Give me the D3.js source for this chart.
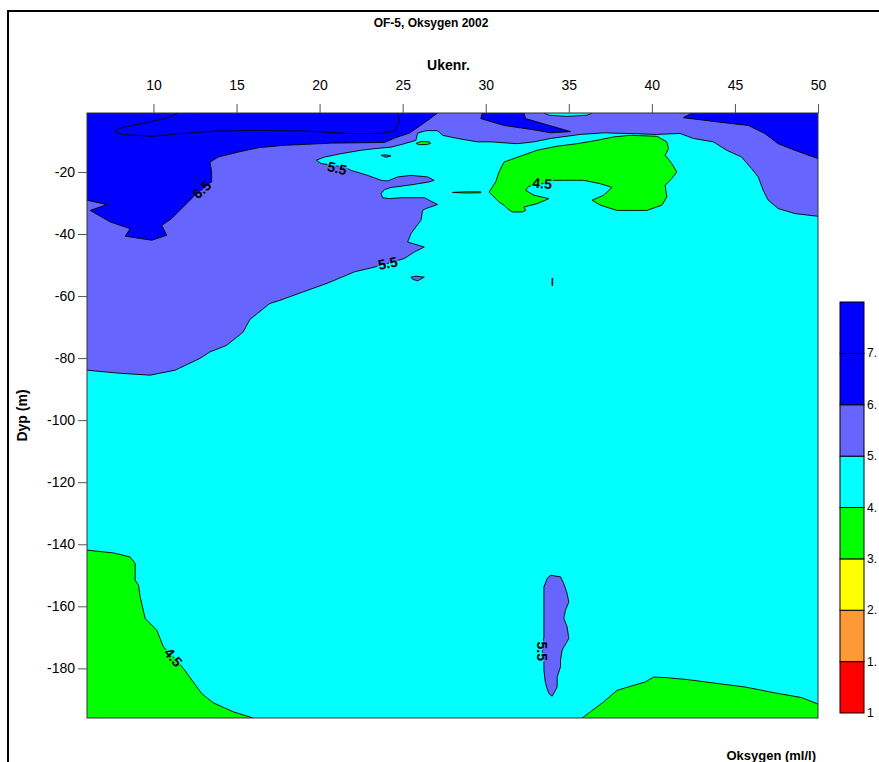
<!DOCTYPE html>
<html>
<head>
<meta charset="utf-8">
<script src="https://cdn.jsdelivr.net/npm/d3@7"></script>
<style>
  body { margin: 0; background: #ffffff; }
  svg { display: block; font-family: "Liberation Sans", Arial, sans-serif; }
</style>
</head>
<body>
<svg id="chart" width="879" height="762"></svg>
<script>
// ---- axes ----
const weekDomain = [6, 50];
const depthDomain = [-1, -196];
const weekTicks = [10, 15, 20, 25, 30, 35, 40, 45, 50];
const depthTicks = [-20, -40, -60, -80, -100, -120, -140, -160, -180];

// ---- colour classes (ml/l) ----
const legendLabels = ["1", "1.", "2.", "3.", "4.", "5.", "6.", "7."];
const legendColors = ["#ff0000", "#ff9933", "#ffff00", "#00ff00", "#00ffff", "#6666ff", "#0000ff", "#0000ff"];
const colBlue = "#0000ff", colPeri = "#6666ff", colCyan = "#00ffff", colGreen = "#00ff00";

// ---- contour regions, [week, depth] ----
// oxygen >= 5.5
const over55 = [[6.0,-83.9],[8.0,-84.9],[9.8,-85.5],[11.3,-83.9],[12.8,-80.1],[13.4,-78.0],[14.4,-75.9],[15.4,-71.6],[15.8,-67.6],[17.0,-62.4],[17.6,-61.4],[19.3,-58.1],[20.5,-55.8],[22.1,-52.2],[23.2,-50.8],[24.1,-49.5],[25.1,-47.9],[25.7,-45.8],[26.3,-44.2],[25.3,-42.6],[25.5,-39.9],[25.8,-37.7],[26.1,-35.6],[26.2,-32.4],[26.4,-31.8],[27.1,-30.5],[26.7,-29.4],[26.3,-28.3],[24.9,-28.3],[24.2,-28.6],[23.8,-28.3],[23.7,-27.0],[23.9,-25.7],[24.3,-25.0],[24.9,-24.6],[25.7,-24.0],[26.6,-23.2],[26.9,-22.7],[26.5,-21.6],[25.5,-21.1],[24.7,-21.6],[24.1,-22.9],[23.7,-22.7],[22.9,-21.1],[21.9,-19.5],[21.5,-18.4],[20.1,-17.3],[19.8,-16.2],[20.3,-15.2],[21.3,-14.1],[22.5,-13.0],[23.3,-12.5],[24.3,-12.0],[25.1,-10.9],[25.8,-9.8],[25.9,-7.5],[26.4,-6.7],[27.1,-6.7],[27.4,-8.2],[28.3,-9.2],[29.5,-10.3],[30.3,-10.3],[31.9,-10.9],[32.9,-10.3],[33.9,-9.2],[35.7,-7.9],[37.1,-7.4],[38.5,-7.6],[40.3,-7.9],[41.7,-7.6],[42.5,-9.2],[43.7,-10.3],[44.5,-13.0],[45.4,-15.2],[46.0,-18.9],[46.4,-21.6],[46.7,-25.9],[47.0,-29.1],[47.6,-31.8],[48.6,-33.4],[50,-34.3],[50,-1],[6,-1]];

// oxygen >= 6.5
const over65West = [[6.0,-29.1],[7.2,-30.5],[6.2,-32.4],[7.4,-36.1],[8.6,-38.3],[8.3,-40.7],[9.9,-42.0],[10.8,-40.4],[10.5,-37.2],[11.1,-35.0],[11.9,-30.7],[12.5,-27.5],[13.5,-23.2],[13.5,-20.0],[13.4,-16.8],[13.9,-15.2],[15.1,-13.6],[16.3,-12.2],[17.9,-11.4],[19.2,-11.1],[20.7,-10.7],[23.9,-10.5],[24.6,-8.9],[25.4,-7.5],[26.0,-5.3],[26.6,-3.0],[27.1,-1],[6,-1]];
const over65Mid = [[29.8,-1],[29.7,-2.8],[31.1,-5.0],[33.1,-6.6],[33.9,-7.4],[35.1,-7.0],[32.4,-2.8],[32.3,-1]];
const over65East = [[42.4,-1],[41.9,-2.5],[44.0,-3.9],[45.8,-5.0],[46.8,-7.6],[47.6,-10.9],[48.6,-13.0],[50,-15.7],[50,-1]];

// oxygen >= 7.5
const over75 = [[11.5,-1],[10.7,-2.8],[9.3,-4.4],[7.9,-6.0],[7.7,-7.1],[8.1,-7.9],[9.9,-8.5],[11.7,-7.6],[13.9,-6.8],[16.3,-6.6],[19.2,-6.8],[21.7,-7.6],[23.7,-7.6],[24.5,-6.8],[24.8,-3.9],[24.7,-1]];

// surface pocket below 5.5
const under55Surface = [[33.5,-1],[33.8,-1.7],[34.9,-2.1],[36.1,-1.7],[36.4,-1]];

// oxygen <= 4.5
const under45Upper = [[31.1,-16.8],[33.1,-13.0],[34.3,-11.7],[35.5,-10.9],[36.7,-9.8],[37.7,-8.7],[38.7,-8.2],[40.3,-8.5],[40.9,-10.3],[41.0,-12.5],[40.8,-14.6],[41.2,-17.3],[41.5,-20.0],[41.2,-22.1],[40.8,-24.3],[40.9,-28.1],[40.6,-30.7],[39.7,-32.4],[37.9,-32.4],[36.9,-30.7],[36.4,-29.1],[37.1,-27.5],[37.6,-25.0],[36.9,-23.8],[35.9,-22.7],[34.7,-22.7],[34.1,-22.7],[33.3,-24.0],[32.6,-24.6],[32.4,-25.9],[32.9,-27.5],[33.8,-28.6],[33.1,-30.2],[32.3,-31.3],[32.4,-32.4],[32.2,-32.9],[31.6,-32.9],[31.3,-31.8],[31.1,-30.7],[30.8,-29.7],[30.2,-26.5],[30.6,-23.2],[30.8,-20.0]];
const under45West = [[6.0,-141.9],[7.6,-142.8],[8.6,-144.1],[8.9,-146.2],[8.9,-151.6],[9.1,-153.2],[9.2,-157.0],[9.5,-163.9],[10.2,-167.7],[10.6,-173.1],[11.2,-176.3],[11.8,-180.0],[12.9,-188.1],[13.6,-191.1],[14.8,-194.0],[16.0,-196],[6,-196]];
const under45East = [[35.8,-196],[36.3,-194.0],[37.1,-190.8],[37.9,-187.1],[38.7,-185.8],[39.6,-184.4],[40.1,-182.8],[40.9,-183.0],[42.1,-183.6],[43.7,-184.7],[45.6,-186.0],[47.4,-187.9],[49.0,-189.4],[50,-191.5],[50,-196]];

// small pockets
const under45Spot = [[25.8,-10.8],[26.1,-10.2],[26.6,-10.3],[26.7,-10.8],[26.4,-11.2],[26.0,-11.2]];
const under45Streak = [[28.0,-26.6],[28.8,-26.4],[29.7,-26.4],[29.7,-26.7],[28.8,-26.8]];
const over55Speck = [[23.7,-14.6],[24.0,-14.5],[24.3,-14.8],[24.0,-15.3]];
const over55Blob = [[25.5,-53.9],[25.8,-53.6],[26.3,-53.9],[25.9,-55.1],[25.6,-54.6]];
const over55Sliver = [[33.99,-54.3],[34.03,-54.3],[34.03,-56.6],[33.99,-56.6]];
const over55Deep = [[33.9,-150.0],[34.5,-150.5],[34.7,-152.7],[34.9,-155.9],[35.0,-158.6],[34.8,-161.3],[34.7,-163.9],[34.9,-166.6],[35.0,-170.4],[34.6,-174.1],[34.5,-177.4],[34.5,-179.5],[34.3,-182.8],[34.3,-186.0],[34.0,-189.0],[33.8,-188.1],[33.6,-184.9],[33.5,-180.6],[33.5,-177.4],[33.4,-174.1],[33.5,-169.9],[33.5,-165.5],[33.5,-161.3],[33.5,-158.0],[33.5,-153.8],[33.7,-151.0]];

// contour labels: text, week, depth, rotation
const labelText = ["6.5", "5.5", "5.5", "4.5", "4.5", "5.5"];
const labelWeek = [12.9, 21.05, 24.1, 33.4, 11.2, 33.4];
const labelDepth = [-25.7, -18.8, -49.4, -23.7, -176.4, -174.5];
const labelAngle = [-42, 14, -12, 5, 50, 90];

// ---- layout ----
const svg = d3.select("#chart");
const plot = { left: 87, right: 818, top: 113, bottom: 718 };

const x = d3.scaleLinear().domain(weekDomain).range([plot.left, plot.right]);
const y = d3.scaleLinear().domain(depthDomain).range([plot.top, plot.bottom]);

// outer frame
svg.append("path")
  .attr("d", "M8,762 V11 H879")
  .attr("fill", "none").attr("stroke", "#000").attr("stroke-width", 2);

// title
svg.append("text")
  .attr("x", 431).attr("y", 27)
  .attr("text-anchor", "middle")
  .attr("font-size", 12).attr("font-weight", "bold")
  .text("OF-5, Oksygen 2002");

const layers = [
  { pts: over55, fill: colPeri },
  { pts: over65West, fill: colBlue },
  { pts: over65Mid, fill: colBlue },
  { pts: over65East, fill: colBlue },
  { pts: over75, fill: colBlue },
  { pts: under55Surface, fill: colCyan },
  { pts: under45Spot, fill: colGreen },
  { pts: under45Streak, fill: colGreen },
  { pts: over55Speck, fill: colPeri },
  { pts: over55Blob, fill: colPeri },
  { pts: over55Sliver, fill: colPeri },
  { pts: under45Upper, fill: colGreen },
  { pts: under45West, fill: colGreen },
  { pts: under45East, fill: colGreen },
  { pts: over55Deep, fill: colPeri }
];

const defs = svg.append("defs");
defs.append("clipPath").attr("id", "plotClip")
  .append("rect")
  .attr("x", plot.left).attr("y", plot.top)
  .attr("width", plot.right - plot.left).attr("height", plot.bottom - plot.top);

// mask that opens gaps in the contour lines under their labels
const mask = defs.append("mask").attr("id", "labelGap")
  .attr("maskUnits", "userSpaceOnUse")
  .attr("x", 0).attr("y", 0).attr("width", 879).attr("height", 762);
mask.append("rect").attr("x", 0).attr("y", 0).attr("width", 879).attr("height", 762).attr("fill", "#fff");

const line = d3.line().x(d => x(d[0])).y(d => y(d[1]));

const g = svg.append("g").attr("clip-path", "url(#plotClip)");

// base class 4.5 - 5.5
g.append("rect")
  .attr("x", plot.left).attr("y", plot.top)
  .attr("width", plot.right - plot.left).attr("height", plot.bottom - plot.top)
  .attr("fill", colCyan);

const onEdge = (a, b) =>
  (a[0] === weekDomain[0] && b[0] === weekDomain[0]) ||
  (a[0] === weekDomain[1] && b[0] === weekDomain[1]) ||
  (a[1] === depthDomain[0] && b[1] === depthDomain[0]) ||
  (a[1] === depthDomain[1] && b[1] === depthDomain[1]);

// contour line runs (skip the parts that lie on the plot frame)
function contourRuns(pts) {
  const n = pts.length;
  let start = 0;
  for (let i = 0; i < n; i++) {
    if (onEdge(pts[i], pts[(i + 1) % n])) { start = (i + 1) % n; break; }
  }
  const runs = [];
  let cur = [pts[start]];
  for (let k = 0; k < n; k++) {
    const a = pts[(start + k) % n], b = pts[(start + k + 1) % n];
    if (onEdge(a, b)) {
      if (cur.length > 1) runs.push(cur);
      cur = [b];
    } else {
      cur.push(b);
    }
  }
  if (cur.length > 1) runs.push(cur);
  return runs;
}

const lineGroup = svg.append("g").attr("clip-path", "url(#plotClip)");
const lineInner = lineGroup.append("g").attr("mask", "url(#labelGap)");

layers.forEach(l => {
  g.append("path")
    .attr("d", line(l.pts) + "Z")
    .attr("fill", l.fill);
  contourRuns(l.pts).forEach(run => {
    const closed = run.length === l.pts.length + 1;
    lineInner.append("path")
      .attr("d", line(run) + (closed ? "Z" : ""))
      .attr("fill", "none")
      .attr("stroke", "#000")
      .attr("stroke-width", 0.9)
      .attr("stroke-linejoin", "round");
  });
});

// contour labels
labelText.forEach((t, i) => {
  const px = x(labelWeek[i]), py = y(labelDepth[i]);
  mask.append("text")
    .attr("transform", `translate(${px},${py}) rotate(${labelAngle[i]})`)
    .attr("text-anchor", "middle").attr("dominant-baseline", "central")
    .attr("font-size", 14).attr("font-weight", "bold")
    .attr("fill", "#000").attr("stroke", "#000").attr("stroke-width", 3)
    .text(t);
  svg.append("text")
    .attr("transform", `translate(${px},${py}) rotate(${labelAngle[i]})`)
    .attr("text-anchor", "middle").attr("dominant-baseline", "central")
    .attr("font-size", 14).attr("font-weight", "bold")
    .attr("fill", "#000")
    .text(t);
});

// plot frame
svg.append("rect")
  .attr("x", plot.left).attr("y", plot.top)
  .attr("width", plot.right - plot.left).attr("height", plot.bottom - plot.top)
  .attr("fill", "none").attr("stroke", "#333").attr("stroke-width", 1);

// top axis (weeks)
const topAxis = svg.append("g")
  .attr("transform", `translate(0,${plot.top})`)
  .call(d3.axisTop(x).tickValues(weekTicks).tickSize(9).tickPadding(14).tickFormat(d3.format("d")));
topAxis.select(".domain").remove();
topAxis.selectAll(".tick line").attr("stroke", "#555");
topAxis.selectAll(".tick text").attr("font-size", 14).attr("fill", "#000")
  .attr("font-family", "'Liberation Sans', Arial, sans-serif");

svg.append("text")
  .attr("x", (plot.left + plot.right) / 2 - 4).attr("y", 70)
  .attr("text-anchor", "middle")
  .attr("font-size", 14).attr("font-weight", "bold")
  .text("Ukenr.");

// left axis (depth)
const leftAxis = svg.append("g")
  .attr("transform", `translate(${plot.left},0)`)
  .call(d3.axisLeft(y).tickValues(depthTicks).tickSize(9).tickPadding(3).tickFormat(d3.format("d")));
leftAxis.select(".domain").remove();
leftAxis.selectAll(".tick line").attr("stroke", "#555");
leftAxis.selectAll(".tick text").attr("font-size", 14).attr("fill", "#000")
  .attr("font-family", "'Liberation Sans', Arial, sans-serif")
  .text(d => d3.format("d")(d).replace("\u2212", "-"));

svg.append("text")
  .attr("transform", `translate(22,${(plot.top + plot.bottom) / 2}) rotate(-90)`)
  .attr("text-anchor", "middle")
  .attr("dominant-baseline", "central")
  .attr("font-size", 14).attr("font-weight", "bold")
  .text("Dyp (m)");

// colour legend
const legend = { left: 840, width: 24, top: 302, bottom: 713 };
const ly = d3.scaleLinear().domain([0, legendColors.length]).range([legend.bottom, legend.top]);
const lg = svg.append("g");
legendColors.forEach((c, i) => {
  lg.append("rect")
    .attr("x", legend.left).attr("y", ly(i + 1))
    .attr("width", legend.width).attr("height", ly(i) - ly(i + 1))
    .attr("fill", c).attr("stroke", "#000").attr("stroke-width", 1);
});
legendLabels.forEach((t, i) => {
  lg.append("text")
    .attr("x", legend.left + legend.width + 3).attr("y", ly(i))
    .attr("dominant-baseline", "central")
    .attr("font-size", 12)
    .text(t);
});

svg.append("text")
  .attr("x", 816).attr("y", 760)
  .attr("text-anchor", "end")
  .attr("font-size", 13).attr("font-weight", "bold")
  .text("Oksygen (ml/l)");
</script>
</body>
</html>
